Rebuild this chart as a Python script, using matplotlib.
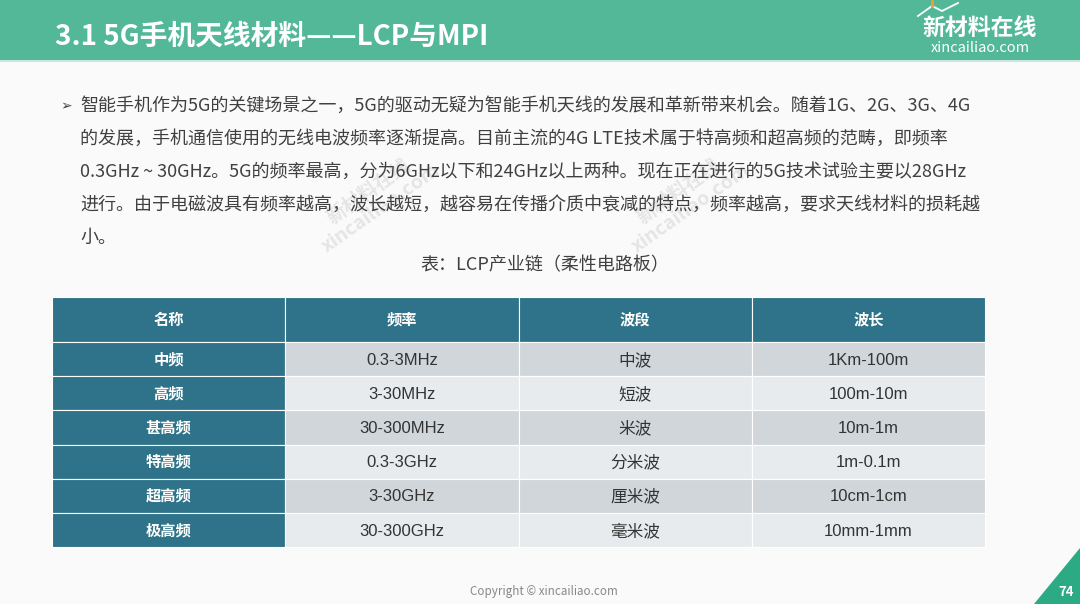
import matplotlib
matplotlib.use("Agg")
from matplotlib import pyplot as plt
from matplotlib.patches import Rectangle, Polygon

plt.rcParams['font.family'] = ['Noto Sans CJK SC', 'DejaVu Sans']

# 表格数据
headers = ["名称", "频率", "波段", "波长"]
names = ["中频", "高频", "甚高频", "特高频", "超高频", "极高频"]
freqs = ["0.3-3MHz", "3-30MHz", "30-300MHz", "0.3-3GHz", "3-30GHz", "30-300GHz"]
bands = ["中波", "短波", "米波", "分米波", "厘米波", "毫米波"]
waves = ["1Km-100m", "100m-10m", "10m-1m", "1m-0.1m", "10cm-1cm", "10mm-1mm"]

title = "3.1 5G手机天线材料——LCP与MPI"
body_lines = [
    "智能手机作为5G的关键场景之一，5G的驱动无疑为智能手机天线的发展和革新带来机会。随着1G、2G、3G、4G",
    "的发展，手机通信使用的无线电波频率逐渐提高。目前主流的4G LTE技术属于特高频和超高频的范畴，即频率",
    "0.3GHz ~ 30GHz。5G的频率最高，分为6GHz以下和24GHz以上两种。现在正在进行的5G技术试验主要以28GHz",
    "进行。由于电磁波具有频率越高，波长越短，越容易在传播介质中衰减的特点，频率越高，要求天线材料的损耗越",
    "小。",
]
caption = "表：LCP产业链（柔性电路板）"

green = "#52B898"
teal = "#2E7389"
row_dark = "#D0D6DA"
row_light = "#E8EBED"
latin_cjk = ['Liberation Sans', 'Noto Sans CJK SC']

fig = plt.figure(figsize=(10.8, 6.04), dpi=100)
fig.patch.set_facecolor("#FAFAFA")
ax = fig.add_axes([0, 0, 1, 1])
ax.set_xlim(0, 1080)
ax.set_ylim(604, 0)
ax.axis("off")

# 顶部标题栏
ax.add_patch(Rectangle((0, 0), 1080, 60, color=green, lw=0))
ax.add_patch(Rectangle((0, 60), 1080, 2, color="#C8E8DC", lw=0))
ax.text(55, 37, title, color="white", fontsize=20, fontweight="bold", va="center", ha="left")

# logo
ax.plot([918, 932, 942, 958], [16, 6, 11, 3], color="white", lw=1.3)
ax.plot([932, 932], [6, 1], color="#F0A030", lw=2)
ax.text(980, 28, "新材料在线", color="white", fontsize=16.5, fontweight="bold", ha="center", va="center")
ax.text(980, 48, "xincailiao.com", color="white", fontsize=10.5, ha="center", va="center")

# 水印
for wx in (375, 685):
    ax.text(wx, 200, "新材料在线\nxincailiao.com", color="#CCCCCC", alpha=0.45, fontsize=14,
            rotation=35, ha="center", va="center", fontweight="bold", linespacing=1.1)

# 正文
ax.text(60, 106, "➢", color="#444444", fontsize=10, ha="left", va="center", family=["DejaVu Sans"])
line_y = [106, 139, 172, 205, 238]
for y, s in zip(line_y, body_lines):
    ax.text(80, y, s, color="#404040", fontsize=13, ha="left", va="center")

ax.text(545, 265, caption, color="#404040", fontsize=13, ha="center", va="center")

# 表格
tx, ty = 52, 297
col_w = 233.3
head_h = 45
row_h = 34.2
cols = [names, freqs, bands, waves]

for j, h in enumerate(headers):
    ax.add_patch(Rectangle((tx + j * col_w, ty), col_w, head_h, facecolor=teal,
                           edgecolor="#FFFFFF", lw=0.8))
    ax.text(tx + (j + 0.5) * col_w, ty + head_h / 2, h, color="white", fontsize=11,
            fontweight="bold", ha="center", va="center")

for i in range(len(names)):
    y0 = ty + head_h + i * row_h
    fill = row_dark if i % 2 == 0 else row_light
    for j, col in enumerate(cols):
        fc = teal if j == 0 else fill
        ax.add_patch(Rectangle((tx + j * col_w, y0), col_w, row_h, facecolor=fc,
                               edgecolor="#FFFFFF", lw=0.8))
        if j == 0:
            ax.text(tx + 0.5 * col_w, y0 + row_h / 2, col[i], color="white", fontsize=11,
                    fontweight="bold", ha="center", va="center")
        else:
            ax.text(tx + (j + 0.5) * col_w, y0 + row_h / 2 + 1, col[i], color="#333333",
                    fontsize=12, ha="center", va="center", family=latin_cjk)

# 页脚
ax.text(544, 591, "Copyright © xincailiao.com", color="#888888", fontsize=8.4, ha="center", va="center")
ax.add_patch(Polygon([[1080, 548], [1080, 604], [1034, 604]], closed=True, color="#2BAA84", lw=0))
ax.text(1066, 592, "74", color="white", fontsize=9.5, fontweight="bold", ha="center", va="center")

fig.savefig("out.png", dpi=100, facecolor=fig.get_facecolor())
